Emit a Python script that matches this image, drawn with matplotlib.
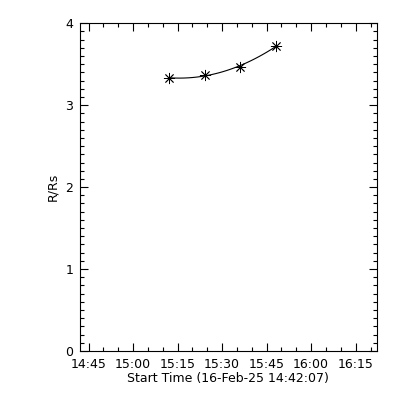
import numpy as np
import matplotlib
matplotlib.use("Agg")
import matplotlib.pyplot as plt
import matplotlib.dates as mdates
from matplotlib.ticker import MultipleLocator
from datetime import datetime, timedelta

# Data
start_time = datetime(2025, 2, 16, 14, 42, 7)
end_time = start_time + timedelta(minutes=100)
times = [datetime(2025, 2, 16, 15, 12, 7), datetime(2025, 2, 16, 15, 24, 5),
         datetime(2025, 2, 16, 15, 36, 6), datetime(2025, 2, 16, 15, 48, 5)]
heights = [3.33, 3.37, 3.47, 3.72]
y_ticks = [0, 1, 2, 3, 4]
x_label = "Start Time (16-Feb-25 14:42:07)"
y_label = "R/Rs"

plt.rcParams['font.family'] = ['DejaVu Sans']
fig = plt.figure(figsize=(4, 4), dpi=100)
ax = fig.add_axes([0.2, 0.1225, 0.742, 0.8195])

tnum = mdates.date2num(times)
# quadratic fit through the measured heights
coef = np.polyfit(tnum - tnum[0], heights, 2)
tf = np.linspace(tnum[0], tnum[-1], 100)
ax.plot(tf, np.polyval(coef, tf - tnum[0]), color='black', lw=0.8)
ax.plot(tnum, heights, linestyle='none', marker=(8, 2, 0), markersize=8,
        markeredgewidth=0.6, color='black')

ax.set_xlim(mdates.date2num(start_time), mdates.date2num(end_time))
ax.set_ylim(0, 4)
ax.set_yticks(y_ticks)
ax.yaxis.set_minor_locator(MultipleLocator(0.1))
ax.xaxis.set_major_locator(mdates.MinuteLocator(byminute=[0, 15, 30, 45]))
ax.xaxis.set_minor_locator(mdates.MinuteLocator(byminute=range(0, 60, 5)))
ax.xaxis.set_major_formatter(mdates.DateFormatter('%H:%M'))

ax.tick_params(which='major', direction='in', length=6, width=0.8,
               top=True, right=True, labelsize=9, pad=5)
ax.tick_params(which='minor', direction='in', length=3, width=0.8,
               top=True, right=True)
for s in ax.spines.values():
    s.set_linewidth(0.8)

ax.set_xlabel(x_label, fontsize=9, labelpad=1)
ax.set_ylabel(y_label, fontsize=9, labelpad=4)

fig.savefig("out.png", dpi=100)
